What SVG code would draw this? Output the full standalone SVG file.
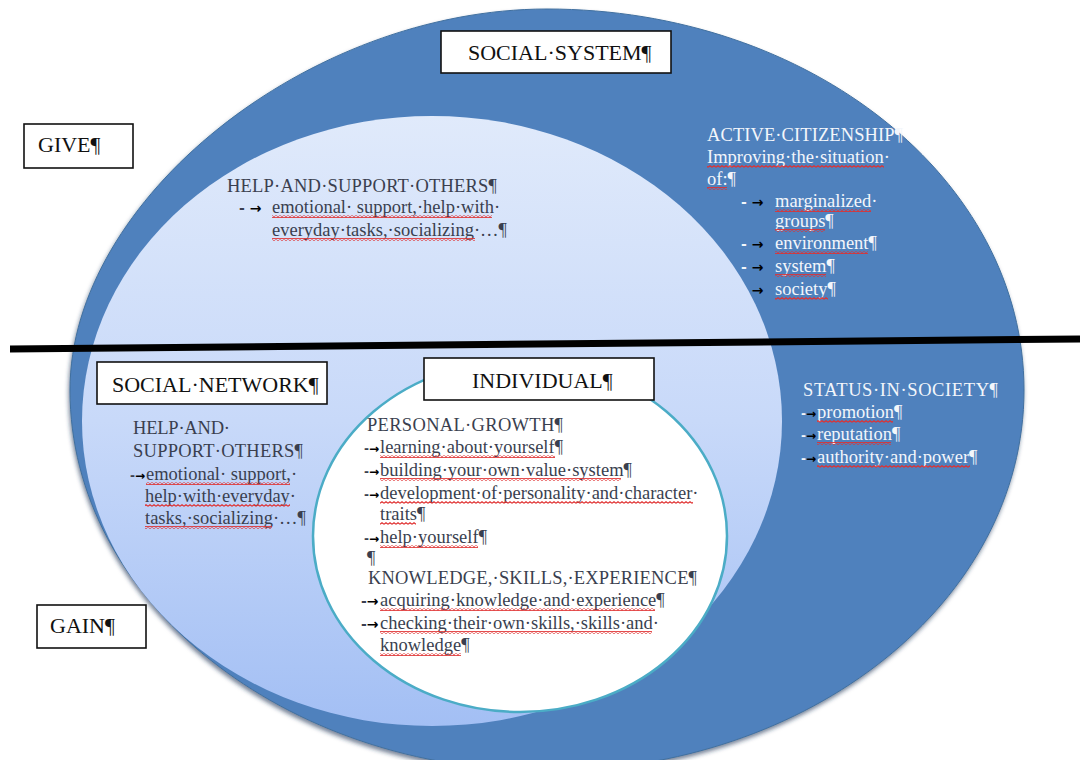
<svg xmlns="http://www.w3.org/2000/svg" width="1085" height="760" viewBox="0 0 1085 760">
  <style>
    .box { fill: #ffffff; stroke: #111111; stroke-width: 1.6; }
    .ttl { font-family: "Liberation Serif", "Times New Roman", serif; font-size: 22px; fill: #111111; }
    .t { font-family: "Liberation Serif", "Times New Roman", serif; font-size: 18.5px; fill: #3a3f4f; }
    .w { font-family: "Liberation Serif", "Times New Roman", serif; font-size: 18.5px; fill: #f3f6fb; }
    .ar { font-family: "DejaVu Sans", sans-serif; font-weight: bold; font-size: 12px; fill: #000000; }
    .arw { font-family: "DejaVu Sans", sans-serif; font-weight: bold; font-size: 14px; fill: #000000; }
    .dk { fill: #3a3f4f; }
    .lt { fill: #f3f6fb; }
    .sq { fill: url(#wv); }
  </style>
  <defs>
    <linearGradient id="lg" x1="0" y1="0" x2="0" y2="1">
      <stop offset="0" stop-color="#e0eafb"/>
      <stop offset="0.5" stop-color="#c8d9f9"/>
      <stop offset="1" stop-color="#a3bff4"/>
    </linearGradient>
    <pattern id="wv" width="4" height="3" patternUnits="userSpaceOnUse">
      <path d="M0 2.3 L2 0.7 L4 2.3" fill="none" stroke="#e03030" stroke-width="1.1"/>
    </pattern>
    <filter id="sh" x="-5%" y="-5%" width="110%" height="115%">
      <feDropShadow dx="-1" dy="3" stdDeviation="2" flood-color="#1c3556" flood-opacity="0.6"/>
    </filter>
  </defs>

  <g id="social-system">
    <path d="M70,390 C70,199.5 308.5,9 547,9 C810.4,9 1024,179.6 1024,390 C1024,600.4 810.4,771 547,771 C283.6,771 70,600.4 70,390 Z" fill="#4f81bd" stroke="#41709f" stroke-width="1" filter="url(#sh)"/>
    <rect class="box" x="441" y="31" width="230" height="42"/>
    <text class="ttl" x="468" y="60">SOCIAL·SYSTEM¶</text>
    <text class="w" x="707" y="141" textLength="196" lengthAdjust="spacing">ACTIVE·CITIZENSHIP¶</text>
    <text class="w" x="707" y="163">Improving·the·situation·</text>
    <text class="w" x="707" y="185">of:¶</text>
    <text class="w" y="207"><tspan class="arw" x="741"><tspan class="lt">-</tspan> →</tspan><tspan x="775">marginalized·</tspan></text>
    <text class="w" x="775" y="227">groups¶</text>
    <text class="w" y="249"><tspan class="arw" x="741"><tspan class="lt">-</tspan> →</tspan><tspan x="775">environment¶</tspan></text>
    <text class="w" y="272"><tspan class="arw" x="741"><tspan class="lt">-</tspan> →</tspan><tspan x="775">system¶</tspan></text>
    <text class="w" y="295"><tspan class="arw" x="741"><tspan class="lt" fill-opacity="0.5">-</tspan> →</tspan><tspan x="775">society¶</tspan></text>
    <text class="w" x="803" y="396" textLength="195" lengthAdjust="spacing">STATUS·IN·SOCIETY¶</text>
    <text class="w" y="418"><tspan class="ar" x="801"><tspan class="lt">-</tspan>→</tspan><tspan x="817">promotion¶</tspan></text>
    <text class="w" y="440"><tspan class="ar" x="801"><tspan class="lt">-</tspan>→</tspan><tspan x="817">reputation¶</tspan></text>
    <text class="w" y="463"><tspan class="ar" x="801"><tspan class="lt">-</tspan>→</tspan><tspan x="817">authority·and·power¶</tspan></text>
    <g class="sq">
      <rect x="707" y="165" width="177" height="3"/>
      <rect x="707" y="187" width="20" height="3"/>
      <rect x="775" y="209" width="96" height="3"/>
      <rect x="775" y="229" width="50" height="3"/>
      <rect x="775" y="251" width="93" height="3"/>
      <rect x="775" y="274" width="51" height="3"/>
      <rect x="775" y="297" width="53" height="3"/>
      <rect x="817" y="420" width="76" height="3"/>
      <rect x="817" y="442" width="74" height="3"/>
      <rect x="817" y="465" width="153" height="3"/>
    </g>
  </g>

  <g id="social-network">
    <ellipse cx="432" cy="421" rx="350" ry="305" fill="url(#lg)"/>
    <rect class="box" x="97" y="362" width="230" height="42"/>
    <text class="ttl" x="112" y="392">SOCIAL·NETWORK¶</text>
    <text class="t" x="227" y="192" textLength="270" lengthAdjust="spacing">HELP·AND·SUPPORT·OTHERS¶</text>
    <text class="t" y="213"><tspan class="arw" x="239"><tspan class="dk">-</tspan> →</tspan><tspan x="272">emotional· support,·help·with·</tspan></text>
    <text class="t" x="272" y="236">everyday·tasks,·socializing·…¶</text>
    <text class="t" x="133" y="434" textLength="97" lengthAdjust="spacing">HELP·AND·</text>
    <text class="t" x="133" y="457" textLength="170" lengthAdjust="spacing">SUPPORT·OTHERS¶</text>
    <text class="t" y="480"><tspan class="ar" x="130"><tspan class="dk">-</tspan>→</tspan><tspan x="146">emotional· support,·</tspan></text>
    <text class="t" x="145" y="502">help·with·everyday·</text>
    <text class="t" x="145" y="524">tasks,·socializing·…¶</text>
    <g class="sq">
      <rect x="272" y="215" width="220" height="3"/>
      <rect x="272" y="238" width="203" height="3"/>
      <rect x="146" y="482" width="144" height="3"/>
      <rect x="145" y="504" width="145" height="3"/>
      <rect x="145" y="526" width="127" height="3"/>
    </g>
  </g>

  <g id="individual">
    <ellipse cx="520" cy="536" rx="207" ry="176" fill="#ffffff" stroke="#4bacc6" stroke-width="2.5"/>
    <rect class="box" x="424" y="358" width="230" height="42"/>
    <text class="ttl" x="472" y="388">INDIVIDUAL¶</text>
    <text class="t" x="367" y="431" textLength="196" lengthAdjust="spacing">PERSONAL·GROWTH¶</text>
    <text class="t" y="453"><tspan class="ar" x="364"><tspan class="dk">-</tspan>→</tspan><tspan x="380">learning·about·yourself¶</tspan></text>
    <text class="t" y="476"><tspan class="ar" x="364"><tspan class="dk">-</tspan>→</tspan><tspan x="380">building·your·own·value·system¶</tspan></text>
    <text class="t" y="499"><tspan class="ar" x="364"><tspan class="dk">-</tspan>→</tspan><tspan x="380">development·of·personality·and·character·</tspan></text>
    <text class="t" x="380" y="520">traits¶</text>
    <text class="t" y="543"><tspan class="ar" x="364"><tspan class="dk">-</tspan>→</tspan><tspan x="380">help·yourself¶</tspan></text>
    <text class="t" x="367" y="564">¶</text>
    <text class="t" x="368" y="584" textLength="329" lengthAdjust="spacing">KNOWLEDGE,·SKILLS,·EXPERIENCE¶</text>
    <text class="t" y="606"><tspan class="arw" x="361"><tspan class="dk">-</tspan>→</tspan><tspan x="380">acquiring·knowledge·and·experience¶</tspan></text>
    <text class="t" y="629"><tspan class="arw" x="361"><tspan class="dk">-</tspan>→</tspan><tspan x="380">checking·their·own·skills,·skills·and·</tspan></text>
    <text class="t" x="380" y="651">knowledge¶</text>
    <g class="sq">
      <rect x="380" y="455" width="175" height="3"/>
      <rect x="380" y="478" width="241" height="3"/>
      <rect x="380" y="501" width="313" height="3"/>
      <rect x="380" y="522" width="36" height="3"/>
      <rect x="380" y="545" width="98" height="3"/>
      <rect x="380" y="608" width="275" height="3"/>
      <rect x="380" y="631" width="272" height="3"/>
      <rect x="380" y="653" width="81" height="3"/>
    </g>
  </g>

  <g id="divider">
    <line x1="10" y1="349" x2="1080" y2="339" stroke="#000000" stroke-width="7"/>
  </g>

  <g id="give">
    <rect class="box" x="24" y="124" width="109" height="44"/>
    <text class="ttl" x="38" y="152">GIVE¶</text>
  </g>

  <g id="gain">
    <rect class="box" x="37" y="605" width="109" height="43"/>
    <text class="ttl" x="50" y="633">GAIN¶</text>
  </g>
</svg>
